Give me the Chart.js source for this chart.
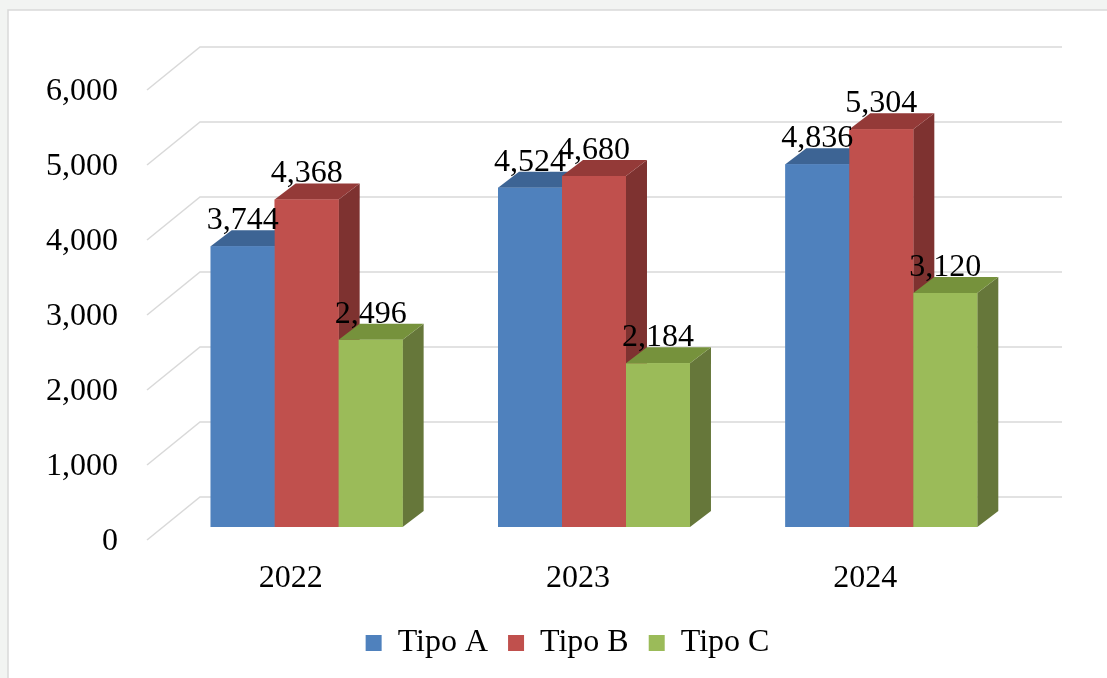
<!DOCTYPE html>
<html>
<head>
<meta charset="utf-8">
<script src="https://cdn.jsdelivr.net/npm/chart.js@4.4.1/dist/chart.umd.min.js"></script>
<style>
  html, body { margin: 0; padding: 0; background: #f2f4f2; }
  #wrap { position: relative; width: 1107px; height: 678px; }
</style>
</head>
<body>
<div id="wrap"><canvas id="chart"></canvas></div>
<script>
// data
const years = ['2022', '2023', '2024'];
const seriesNames = ['Tipo A', 'Tipo B', 'Tipo C'];
const tipoA = [3744, 4524, 4836];
const tipoB = [4368, 4680, 5304];
const tipoC = [2496, 2184, 3120];
const yTicks = [0, 1000, 2000, 3000, 4000, 5000, 6000];

const FONT = "'Times New Roman', 'Liberation Serif', serif";
const FONT_SIZE = 32;

// colours: front, top, side
const palette = [
    { front: '#4F81BD', top: '#3D6494', side: '#385D8A' },
    { front: '#C0504D', top: '#943A38', side: '#7E3230' },
    { front: '#9BBB59', top: '#76923C', side: '#66773A' }
];

// fake 3D offsets (relative to the bar plane)
const FRONT = { dx: -16, dy: 13 };
const BACK = { dx: 37, dy: -30 };
const DEPTH = { dx: 21, dy: -16 };

const fmt = v => Number(v).toLocaleString('en-US');

// light frame like the original picture
const framePlugin = {
    id: 'frame',
    beforeDraw(chart) {
        const ctx = chart.ctx;
        ctx.save();
        ctx.fillStyle = '#ffffff';
        ctx.fillRect(8, 10, chart.width, chart.height);
        ctx.strokeStyle = '#d9d9d9';
        ctx.lineWidth = 1.5;
        ctx.strokeRect(8, 10, chart.width + 10, chart.height + 10);
        ctx.restore();
    }
};

// back wall grid + floor diagonals
const wallPlugin = {
    id: 'wall',
    beforeDatasetsDraw(chart) {
        const ctx = chart.ctx, a = chart.chartArea, y = chart.scales.y;
        ctx.save();
        ctx.strokeStyle = '#d9d9d9';
        ctx.lineWidth = 1.5;
        yTicks.forEach(v => {
            const py = y.getPixelForValue(v);
            ctx.beginPath();
            ctx.moveTo(a.left + FRONT.dx, py + FRONT.dy);
            ctx.lineTo(a.left + BACK.dx, py + BACK.dy);
            ctx.lineTo(a.right + BACK.dx, py + BACK.dy);
            ctx.stroke();
        });
        ctx.restore();
    }
};

// side + top faces, then front again so neighbours overlap correctly
const boxPlugin = {
    id: 'box3d',
    afterDatasetsDraw(chart) {
        const ctx = chart.ctx;
        const metas = chart.data.datasets.map((d, i) => chart.getDatasetMeta(i));
        ctx.save();
        years.forEach((_, j) => {
            metas.forEach((meta, i) => {
                const bar = meta.data[j];
                const { x, y, base, width } = bar.getProps(['x', 'y', 'base', 'width'], true);
                const x0 = x - width / 2, x1 = x + width / 2;
                const c = palette[i];

                ctx.fillStyle = c.side;
                ctx.beginPath();
                ctx.moveTo(x1, y);
                ctx.lineTo(x1 + DEPTH.dx, y + DEPTH.dy);
                ctx.lineTo(x1 + DEPTH.dx, base + DEPTH.dy);
                ctx.lineTo(x1, base);
                ctx.closePath();
                ctx.fill();

                ctx.fillStyle = c.top;
                ctx.beginPath();
                ctx.moveTo(x0, y);
                ctx.lineTo(x1, y);
                ctx.lineTo(x1 + DEPTH.dx, y + DEPTH.dy);
                ctx.lineTo(x0 + DEPTH.dx, y + DEPTH.dy);
                ctx.closePath();
                ctx.fill();

                bar.draw(ctx);
            });
        });

        // value labels on top
        ctx.fillStyle = '#000';
        ctx.font = FONT_SIZE + 'px ' + FONT;
        ctx.textAlign = 'center';
        ctx.textBaseline = 'alphabetic';
        metas.forEach((meta, i) => {
            meta.data.forEach((bar, j) => {
                const v = chart.data.datasets[i].data[j];
                ctx.fillText(fmt(v), bar.x, bar.y + DEPTH.dy - 1);
            });
        });
        ctx.restore();
    }
};

// fixed legend height, and nudge it right (centred under the plot like the original)
const legendTweak = {
    id: 'legendTweak',
    beforeInit(chart) {
        const fit = chart.legend.fit;
        chart.legend.fit = function () {
            fit.call(this);
            this.height = 71;
        };
    },
    afterLayout(chart) {
        chart.legend.left += 55;
        chart.legend.right += 55;
    }
};

const seriesData = [tipoA, tipoB, tipoC];

new Chart(document.getElementById('chart'), {
    type: 'bar',
    data: {
        labels: years,
        datasets: seriesNames.map((name, i) => ({
            label: name,
            data: seriesData[i],
            backgroundColor: palette[i].front,
            borderWidth: 0,
            barPercentage: 1,
            categoryPercentage: 0.668
        }))
    },
    options: {
        responsive: true,
        maintainAspectRatio: false,
        animation: false,
        layout: { padding: { top: 77, right: 82, left: 0, bottom: 0 } },
        plugins: {
            tooltip: { enabled: false },
            legend: {
                position: 'bottom',
                labels: {
                    boxWidth: 16,
                    boxHeight: 16,
                    padding: 20,
                    color: '#000',
                    font: { family: FONT, size: FONT_SIZE }
                }
            }
        },
        scales: {
            x: {
                grid: { display: false, drawTicks: false },
                border: { display: false },
                ticks: {
                    color: '#000',
                    font: { family: FONT, size: FONT_SIZE },
                    padding: 32,
                    labelOffset: FRONT.dx
                },
                afterFit(scale) { scale.height = 80; }
            },
            y: {
                min: 0,
                max: 6000,
                grid: { display: false, drawTicks: false },
                border: { display: false },
                ticks: {
                    stepSize: 1000,
                    color: '#000',
                    font: { family: FONT, size: FONT_SIZE },
                    padding: 45,
                    labelOffset: 15,
                    callback: v => fmt(v)
                },
                afterFit(scale) { scale.width = 163; }
            }
        }
    },
    plugins: [framePlugin, wallPlugin, boxPlugin, legendTweak]
});
</script>
</body>
</html>
